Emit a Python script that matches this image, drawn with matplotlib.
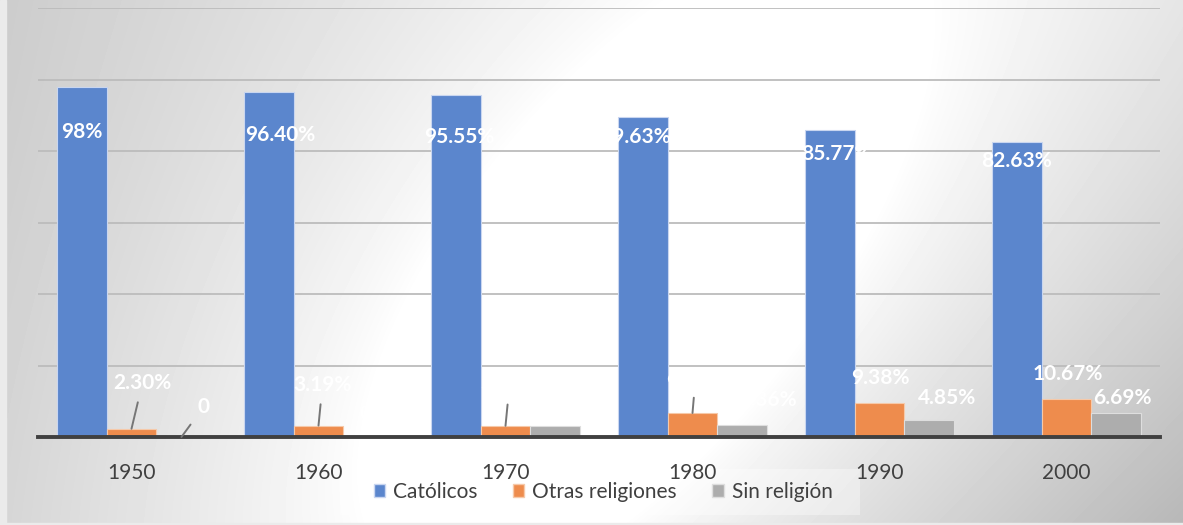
import numpy as np
import matplotlib
matplotlib.use('Agg')
import matplotlib.pyplot as plt
from matplotlib.patches import Rectangle, Patch

years = ['1950', '1960', '1970', '1980', '1990', '2000']
catolicos = [98.0, 96.40, 95.55, 89.63, 85.77, 82.63]
otras = [2.30, 3.19, 3.12, 6.71, 9.38, 10.67]
sin_religion = [0.0, 0.41, 3.04, 3.36, 4.85, 6.69]

catolicos_lbl = ['98%', '96.40%', '95.55%', '89.63%', '85.77%', '82.63%']
otras_lbl = ['2.30%', '3.19%', '3.12%', '6.71%', '9.38%', '10.67%']
sin_lbl = ['0', '0.41%', '3.04%', '3.36%', '4.85%', '6.69%']

# label offsets (pixels from bar top) and whether a leader line is drawn
cat_off = [(0, -45), (12, -43), (4, -42), (-7, -20), (7, -24), (0, -19)]
otras_off = [(11, 46), (4, 41), (4, 41), (3, 35), (1, 25), (1, 25)]
sin_off = [(22, 30), (20, 22), (24, 26), (25, 25), (18, 22), (6, 15)]
otras_lead = [True, True, True, True, False, False]
sin_lead = [True, False, False, False, False, False]

plt.rcParams['font.family'] = ['Lato', 'DejaVu Sans']

W, H = 1183, 525
fig = plt.figure(figsize=(W / 100, H / 100), dpi=100)

# background gradient (white band in the middle, tilted, grey to the edges)
bg = fig.add_axes([0, 0, 1, 1], zorder=0)
yy, xx = np.mgrid[0:H, 0:W].astype(float)
cx = 810 - 0.58 * yy
dx = xx - cx
dx = np.where(dx > 0, dx * 1.2, dx)
d = np.hypot(dx, (yy - 260) * 0.7)
t = np.clip((d - 230) / 600, 0, 1) ** 0.8
shade = 1 - t * (0.2 + 0.08 * yy / H)
bg.imshow(shade, cmap='gray', vmin=0, vmax=1, extent=(0, W, H, 0),
          aspect='auto', interpolation='bilinear')
bg.add_patch(Rectangle((0, 0), 6, H, color='#ebebeb'))
bg.add_patch(Rectangle((0, 523), W, 2, color='#ebebeb'))
bg.add_patch(Rectangle((340, 469), 520, 46, color='white', alpha=0.35, lw=0))
bg.set_xlim(0, W)
bg.set_ylim(H, 0)
bg.axis('off')

ax = fig.add_axes([38 / W, 88 / H, 1122 / W, 429 / H], zorder=1)
ax.patch.set_alpha(0)

x = np.arange(len(years))
w = 0.267
colors = ['#5b86cd', '#ee8c4d', '#adadad']
edges = ['#c9d6f0', '#f6c9a9', '#dedede']
series = [catolicos, otras, sin_religion]
labels = [catolicos_lbl, otras_lbl, sin_lbl]
offsets = [cat_off, otras_off, sin_off]
leads = [[False] * 6, otras_lead, sin_lead]
names = ['Católicos', 'Otras religiones', 'Sin religión']

for k in range(3):
    xs = x + (k - 1) * w
    ax.bar(xs, series[k], w, color=colors[k], edgecolor=edges[k], linewidth=0.8, zorder=2)
    for i in range(len(years)):
        props = None
        if leads[k][i]:
            props = dict(arrowstyle='-', color='#767676', lw=1.4, shrinkA=5, shrinkB=0)
        ax.annotate(labels[k][i], xy=(xs[i], series[k][i]), xytext=offsets[k][i],
                    textcoords='offset pixels', ha='center', va='center',
                    color='white', fontweight='bold', fontsize=15,
                    arrowprops=props, zorder=4)

ax.set_xlim(-0.5, 5.5)
ax.set_ylim(0, 120)
ax.set_yticks(range(0, 121, 20))
ax.yaxis.grid(True, color='#bcbcbc', lw=1.3)
ax.set_axisbelow(True)
ax.set_xticks(x)
ax.set_xticklabels(years)
ax.tick_params(left=False, labelleft=False, bottom=False, labelsize=15,
               labelcolor='#404040', pad=15)
for s in ['top', 'left', 'right']:
    ax.spines[s].set_visible(False)
ax.spines['bottom'].set_linewidth(2.8)
ax.spines['bottom'].set_color('#404040')
ax.spines['bottom'].set_zorder(3)

handles = [Patch(facecolor=colors[k], edgecolor=edges[k], label=names[k]) for k in range(3)]
fig.legend(handles=handles, loc='center', bbox_to_anchor=(603 / W, 1 - 492 / H), ncol=3,
           frameon=False, fontsize=15, handlelength=0.55, handleheight=0.55,
           handletextpad=0.38, columnspacing=1.7, labelcolor='#404040')

fig.savefig('out.png', dpi=100)
